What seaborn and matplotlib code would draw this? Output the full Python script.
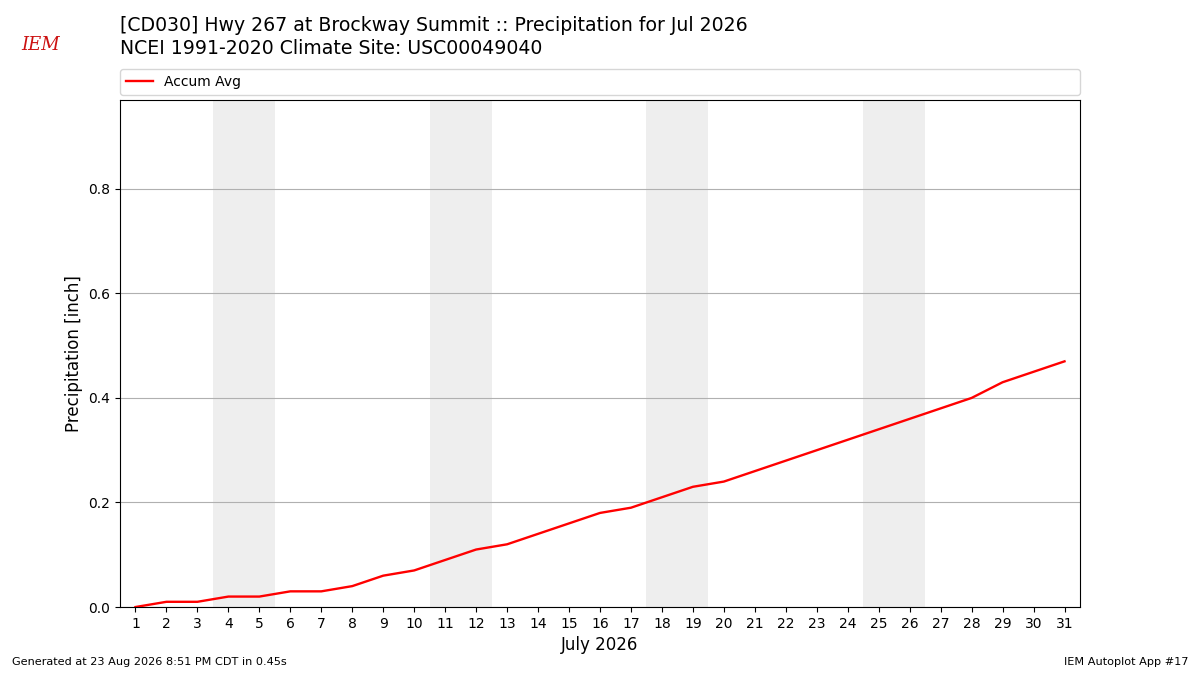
import matplotlib
matplotlib.use("Agg")
import matplotlib.pyplot as plt
import seaborn as sns
import pandas as pd

# daily accumulated climatology precipitation, July
days = list(range(1, 32))
accum_avg = [0.00, 0.01, 0.01, 0.02, 0.02, 0.03, 0.03, 0.04, 0.06, 0.07,
             0.09, 0.11, 0.12, 0.14, 0.16, 0.18, 0.19, 0.21, 0.23, 0.24,
             0.26, 0.28, 0.30, 0.32, 0.34, 0.36, 0.38, 0.40, 0.43, 0.45,
             0.47]
weekend_starts = [4, 11, 18, 25]

title_lines = ["[CD030] Hwy 267 at Brockway Summit :: Precipitation for Jul 2026",
               "NCEI 1991-2020 Climate Site: USC00049040"]
footer_left = "Generated at 23 Aug 2026 8:51 PM CDT in 0.45s"
footer_right = "IEM Autoplot App #17"

df = pd.DataFrame({"day": days, "accum": accum_avg})

fig = plt.figure(figsize=(12, 6.75), dpi=100)
ax = fig.add_axes([0.1, 0.1007, 0.8, 0.7512])

for d in weekend_starts:
    ax.axvspan(d - 0.5, d + 1.5, color="#eeeeee", zorder=0, lw=0)

sns.lineplot(data=df, x="day", y="accum", ax=ax, color="red", lw=1.7,
             label="Accum Avg", zorder=3)

ax.set_xlim(0.5, 31.5)
ax.set_ylim(0, 0.97)
ax.set_xticks(days)
ax.set_yticks([0.0, 0.2, 0.4, 0.6, 0.8])
ax.grid(axis="y", color="#b0b0b0", lw=0.8)
ax.set_axisbelow(True)
ax.tick_params(labelsize=10)
ax.set_xlabel("July 2026", fontsize=12)
ax.set_ylabel("Precipitation [inch]", fontsize=12)

handles, labels = ax.get_legend_handles_labels()
ax.get_legend().remove()
fig.legend(handles, labels, loc="lower left", mode="expand", ncol=1,
           bbox_to_anchor=(0.1, 0.86, 0.8, 0.04), fontsize=10,
           borderaxespad=0, frameon=True)

fig.text(0.1, 0.962, title_lines[0], fontsize=13.6, va="center")
fig.text(0.1, 0.928, title_lines[1], fontsize=13.6, va="center")
fig.text(0.018, 0.933, "IEM", fontsize=13, color="#cc1111", style="italic",
         family="DejaVu Serif", va="center")
fig.text(0.01, 0.015, footer_left, fontsize=8.15)
fig.text(0.99, 0.015, footer_right, fontsize=8.15, ha="right")

fig.savefig("out.png", dpi=100)
